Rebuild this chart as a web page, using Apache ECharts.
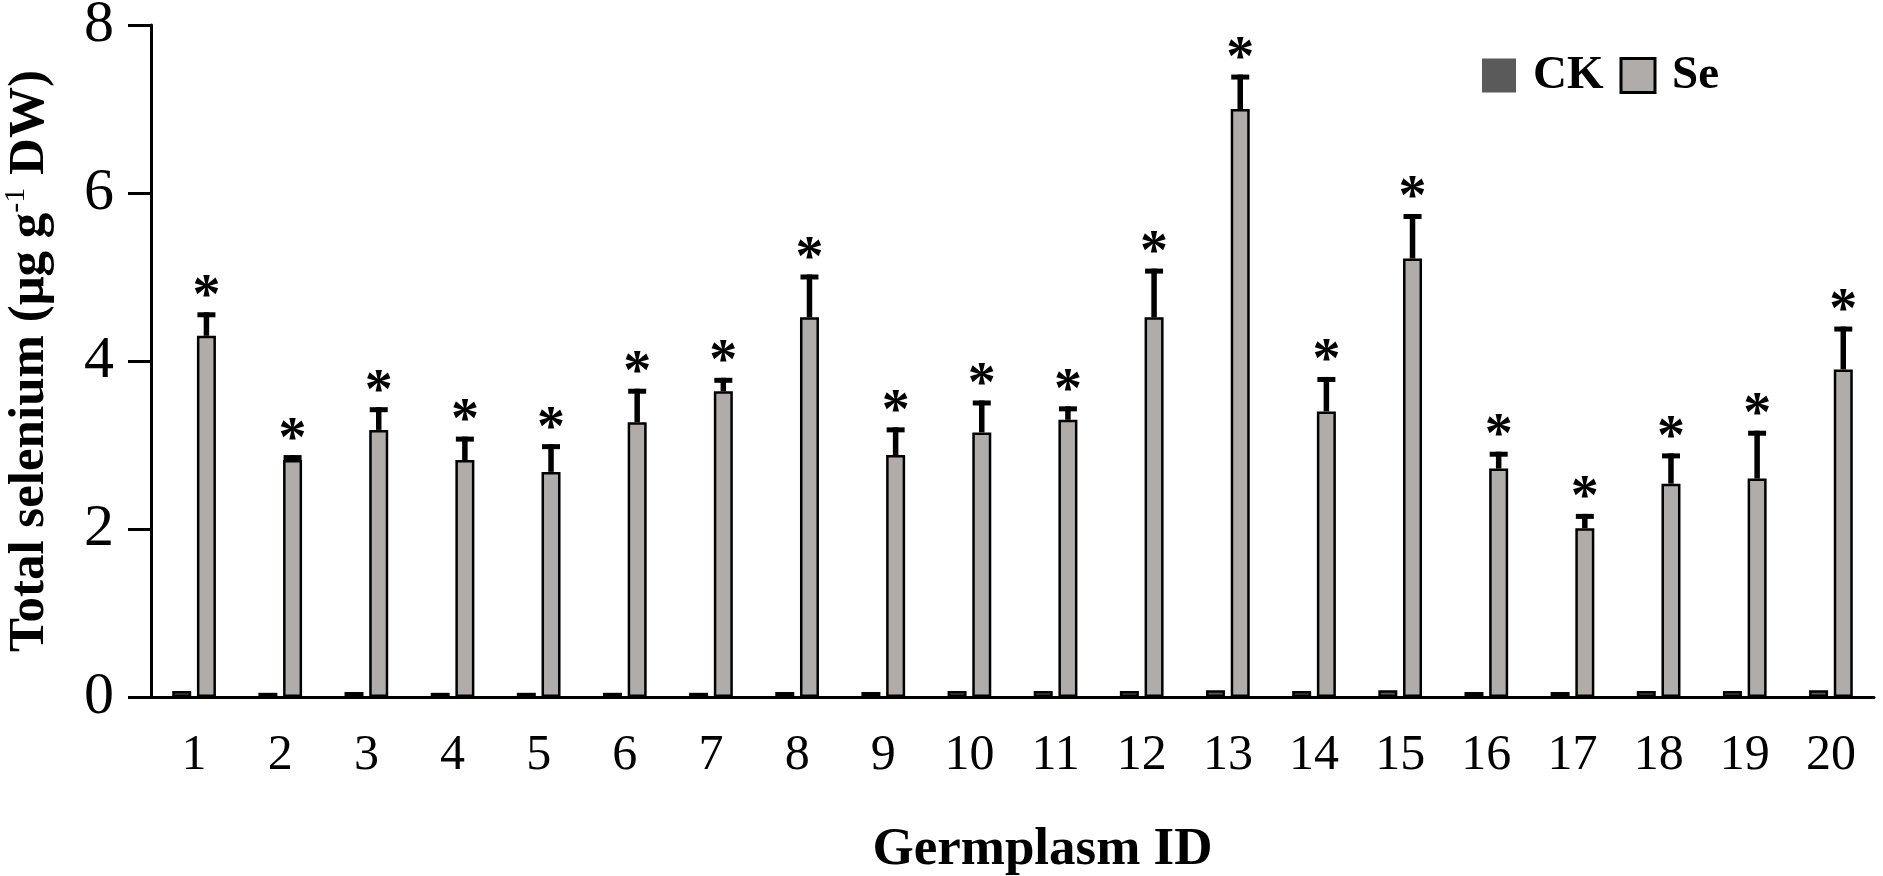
<!DOCTYPE html>
<html>
	<head>
		<meta charset="UTF-8">
		<title></title>
		<script src="https://cdn.jsdelivr.net/npm/echarts@6/dist/echarts.min.js" type="text/javascript" charset="utf-8"></script>
		<style>
			html, body { margin: 0; padding: 0; background: #fff; }
		</style>
	</head>
	<body>
		<div id="chart" style="width: 1883px;height: 876px;"></div>
		<script type="text/javascript">
			var germplasm = ['1','2','3','4','5','6','7','8','9','10','11','12','13','14','15','16','17','18','19','20'];
			var ckMean = [0.07,0.05,0.06,0.05,0.05,0.05,0.05,0.06,0.06,0.07,0.07,0.07,0.08,0.07,0.08,0.06,0.06,0.07,0.07,0.08];
			var seMean = [4.30,2.82,3.18,2.82,2.68,3.27,3.64,4.52,2.88,3.15,3.30,4.52,7.00,3.40,5.22,2.72,2.01,2.54,2.60,3.90];
			// mean + error bar
			var seUpper = [4.58,2.88,3.45,3.10,3.01,3.67,3.80,5.03,3.21,3.53,3.46,5.10,7.41,3.81,5.75,2.92,2.18,2.90,3.17,4.41];
			var yTicks = [0, 8, 2];

			var font = "'Liberation Serif', 'Times New Roman', serif";
			var barW = 19;
			var seOffset = (barW + barW * 0.3) / 2;

			var chart = echarts.init(document.getElementById('chart'));

			function renderErr(params, api) {
				var i = api.value(0);
				var p0 = api.coord([i, api.value(1)]);
				var p1 = api.coord([i, api.value(2)]);
				var x = p0[0] + seOffset;
				return {
					type: 'group',
					children: [
						{type: 'line', shape: {x1: x, y1: p0[1], x2: x, y2: p1[1]}, style: {stroke: '#000', lineWidth: 5.5}},
						{type: 'line', shape: {x1: x - 9, y1: p1[1] + 2.5, x2: x + 9, y2: p1[1] + 2.5}, style: {stroke: '#000', lineWidth: 5}},
						{type: 'text', x: x, y: p1[1] - 14, style: {text: '*', fontFamily: font, fontWeight: 'bold', fontSize: 56, fill: '#000', align: 'center', verticalAlign: 'middle'}}
					]
				};
			}

			var option = {
				animation: false,
				backgroundColor: '#fff',
				legend: {
					left: 1477,
					top: 47,
					icon: 'rect',
					itemWidth: 34,
					itemHeight: 34,
					itemGap: 16,
					textStyle: {fontFamily: font, fontWeight: 'bold', fontSize: 47, color: '#000', padding: [0, 0, 0, 12]},
					data: [
						{name: 'CK', itemStyle: {borderWidth: 0}},
						{name: 'Se', itemStyle: {borderWidth: 3}}
					]
				},
				grid: {left: 151, right: 9, top: 25, bottom: 179, outerBoundsMode: 'none'},
				xAxis: {
					type: 'category',
					data: germplasm,
					name: 'Germplasm ID',
					nameLocation: 'middle',
					nameGap: 127,
					nameTextStyle: {fontFamily: font, fontWeight: 'bold', fontSize: 53, color: '#000', padding: [0, 0, 0, 60]},
					axisLine: {lineStyle: {color: '#000', width: 3}},
					axisTick: {length: 20, lineStyle: {color: '#000', width: 3}},
					axisLabel: {fontFamily: font, fontSize: 50, color: '#000', margin: 34}
				},
				yAxis: {
					type: 'value',
					min: yTicks[0],
					max: yTicks[1],
					interval: yTicks[2],
					name: '{a|Total selenium (μg g}{sup|-1}{a| DW)}',
					nameLocation: 'middle',
					nameGap: 92,
					nameTextStyle: {
						rich: {
							a: {fontFamily: font, fontWeight: 'bold', fontSize: 51, color: '#000', lineHeight: 58},
							sup: {fontFamily: font, fontWeight: 'normal', fontSize: 30, color: '#000', verticalAlign: 'top', lineHeight: 58, padding: [0, 0, 24, 0]}
						}
					},
					splitLine: {show: false},
					axisLine: {show: true, lineStyle: {color: '#000', width: 3}},
					axisTick: {show: true, length: 23, lineStyle: {color: '#000', width: 3}},
					axisLabel: {fontFamily: font, fontSize: 60, color: '#000', margin: 37}
				},
				series: [
					{
						name: 'CK',
						type: 'bar',
						barWidth: barW,
						barGap: '30%',
						data: ckMean,
						itemStyle: {color: '#5a5a5a', borderColor: '#000', borderWidth: 2.5}
					},
					{
						name: 'Se',
						type: 'bar',
						barWidth: barW,
						data: seMean,
						itemStyle: {color: '#b0acaa', borderColor: '#000', borderWidth: 2.5}
					},
					{
						name: 'err',
						type: 'custom',
						renderItem: renderErr,
						z: 5,
						silent: true,
						data: seMean.map(function (v, i) { return [i, v, seUpper[i]]; })
					}
				]
			};
			chart.setOption(option);
		</script>
	</body>
</html>
